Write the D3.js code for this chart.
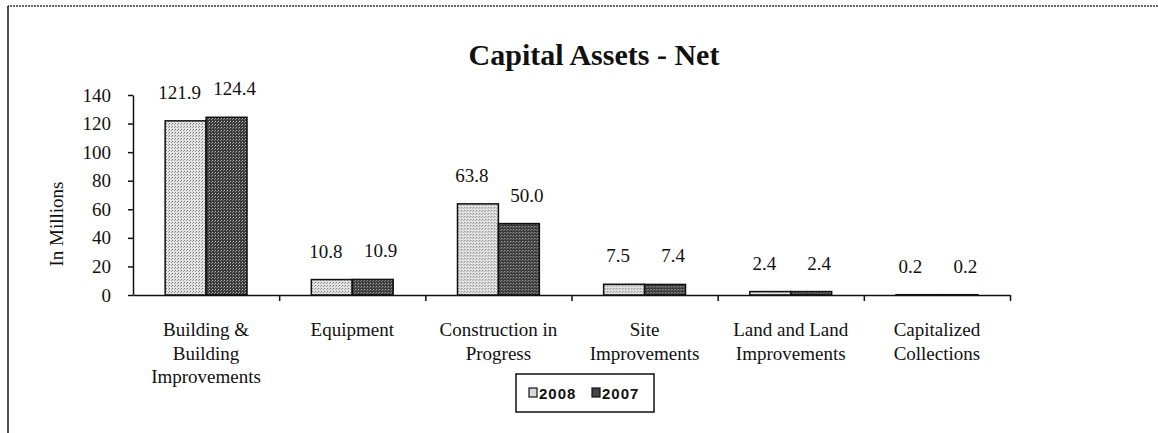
<!DOCTYPE html>
<html>
<head>
<meta charset="utf-8">
<script src="https://cdn.jsdelivr.net/npm/d3@7"></script>
<style>
body { margin: 0; background: #fff; }
svg text { font-family: "Liberation Serif", "Times New Roman", serif; fill: #111; }
</style>
</head>
<body>
<svg id="graphique" width="1158" height="433"></svg>
<script>
// data
var categories = [
	["Building &", "Building", "Improvements"],
	["Equipment"],
	["Construction in", "Progress"],
	["Site", "Improvements"],
	["Land and Land", "Improvements"],
	["Capitalized", "Collections"]
];
var series = ["2008", "2007"];
var values2008 = [121.9, 10.8, 63.8, 7.5, 2.4, 0.2];
var values2007 = [124.4, 10.9, 50.0, 7.4, 2.4, 0.2];
var yTicks = [0, 20, 40, 60, 80, 100, 120, 140];

var graphique = d3.select("#graphique");
var MARGINS = { top: 95, left: 133, right: 148, bottom: 138 };
var WIDTH = 1158, HEIGHT = 433;

// pattern fills (stippled look of the original)
var defs = graphique.append("defs");
var p1 = defs.append("pattern").attr("id", "pat2008").attr("width", 3).attr("height", 3).attr("patternUnits", "userSpaceOnUse");
p1.append("rect").attr("width", 3).attr("height", 3).attr("fill", "#e4e4e4");
p1.append("rect").attr("x", 0).attr("y", 0).attr("width", 1).attr("height", 1).attr("fill", "#777");
p1.append("rect").attr("x", 2).attr("y", 1).attr("width", 1).attr("height", 1).attr("fill", "#999");
var p2 = defs.append("pattern").attr("id", "pat2007").attr("width", 3).attr("height", 3).attr("patternUnits", "userSpaceOnUse");
p2.append("rect").attr("width", 3).attr("height", 3).attr("fill", "#3a3a3a");
p2.append("rect").attr("x", 1).attr("y", 1).attr("width", 1).attr("height", 1).attr("fill", "#bbb");
p2.append("rect").attr("x", 0).attr("y", 2).attr("width", 1).attr("height", 1).attr("fill", "#888");

var fills = { "2008": "url(#pat2008)", "2007": "url(#pat2007)" };
var legendFills = { "2008": "#d8d8d8", "2007": "#444" };

// outer border (top + left only, as in the scan)
graphique.append("path")
	.attr("d", "M1158,6 L8,6")
	.attr("fill", "none")
	.attr("stroke", "#333")
	.attr("stroke-width", 1.5)
	.attr("stroke-dasharray", "2,1");
graphique.append("path")
	.attr("d", "M8,433 L8,6")
	.attr("fill", "none")
	.attr("stroke", "#111")
	.attr("stroke-width", 1.5);

// title
graphique.append("text")
	.attr("x", 594).attr("y", 65)
	.attr("text-anchor", "middle")
	.attr("font-size", 30).attr("font-weight", "bold")
	.text("Capital Assets - Net");

//// scales
var x0 = d3.scaleBand().domain(d3.range(categories.length))
	.range([MARGINS.left, WIDTH - MARGINS.right]).padding(0);
var x1 = d3.scaleBand().domain(series)
	.range([x0.bandwidth() * 0.22, x0.bandwidth() * 0.78]).padding(0);
var yScale = d3.scaleLinear().domain([0, 140]).range([HEIGHT - MARGINS.bottom, MARGINS.top]);

//// axes
var yAxis = d3.axisLeft(yScale).tickValues(yTicks).tickSize(5).tickPadding(17).tickSizeOuter(0);
var gy = graphique.append("g")
	.attr("transform", "translate(" + MARGINS.left + ",0)")
	.call(yAxis);
gy.selectAll("text").attr("font-size", 19).attr("font-family", "Liberation Serif").attr("fill", "#111");
gy.selectAll("line, path").attr("stroke", "#111").attr("stroke-width", 1.5);

var xBound = d3.scaleLinear().domain([0, categories.length]).range([MARGINS.left, WIDTH - MARGINS.right]);
var xAxis = d3.axisBottom(xBound).tickValues(d3.range(1, categories.length + 1)).tickFormat("").tickSize(6).tickSizeOuter(0);
var gx = graphique.append("g")
	.attr("transform", "translate(0," + yScale(0) + ")")
	.call(xAxis);
gx.selectAll("line, path").attr("stroke", "#111").attr("stroke-width", 1.5);

// y axis title
graphique.append("text")
	.attr("transform", "translate(63,224) rotate(-90)")
	.attr("text-anchor", "middle")
	.attr("font-size", 19)
	.text("In Millions");

//// bars
var rows = categories.map(function(c, i){
	return [{ s: "2008", v: values2008[i], i: i }, { s: "2007", v: values2007[i], i: i }];
});

var groups = graphique.selectAll("g.cat").data(rows).enter().append("g")
	.attr("class", "cat")
	.attr("transform", function(d, i){ return "translate(" + x0(i) + ",0)"; });

groups.selectAll("rect").data(function(d){ return d; }).enter().append("rect")
	.attr("x", function(d){ return x1(d.s); })
	.attr("y", function(d){ return yScale(d.v); })
	.attr("width", x1.bandwidth())
	.attr("height", function(d){ return yScale(0) - yScale(d.v); })
	.attr("fill", function(d){ return fills[d.s]; })
	.attr("stroke", "#111")
	.attr("stroke-width", 1.5);

// value labels
groups.selectAll("text.val").data(function(d){ return d; }).enter().append("text")
	.attr("class", "val")
	.attr("x", function(d){ return x1(d.s) + x1.bandwidth() / 2 + (d.s == "2008" ? -6 : 8); })
	.attr("y", function(d){ return yScale(d.v) - 22; })
	.attr("text-anchor", "middle")
	.attr("font-size", 19)
	.text(function(d){ return d.v.toFixed(1); });

//// category labels
graphique.selectAll("text.cat").data(categories).enter().append("text")
	.attr("class", "cat")
	.attr("text-anchor", "middle")
	.attr("font-size", 19)
	.each(function(lines, i){
		var t = d3.select(this);
		lines.forEach(function(l, k){
			t.append("tspan")
				.attr("x", x0(i) + x0.bandwidth() / 2)
				.attr("y", 336 + k * 23.5)
				.text(l);
		});
	});

//// legend
var leg = graphique.append("g").attr("transform", "translate(516,374)");
leg.append("rect").attr("width", 138).attr("height", 38)
	.attr("fill", "#fff").attr("stroke", "#111").attr("stroke-width", 1.5);
series.forEach(function(s, k){
	var g = leg.append("g").attr("transform", "translate(" + (13 + k * 63) + ",0)");
	g.append("rect").attr("x", 0).attr("y", 14).attr("width", 8).attr("height", 9)
		.attr("fill", legendFills[s]).attr("stroke", "#111").attr("stroke-width", 1.2);
	g.append("text").attr("x", 10).attr("y", 25)
		.attr("font-size", 15)
		.attr("font-weight", "bold").attr("letter-spacing", 1)
		.style("font-family", "'Liberation Sans', Arial, sans-serif")
		.text(s);
});
</script>
</body>
</html>
